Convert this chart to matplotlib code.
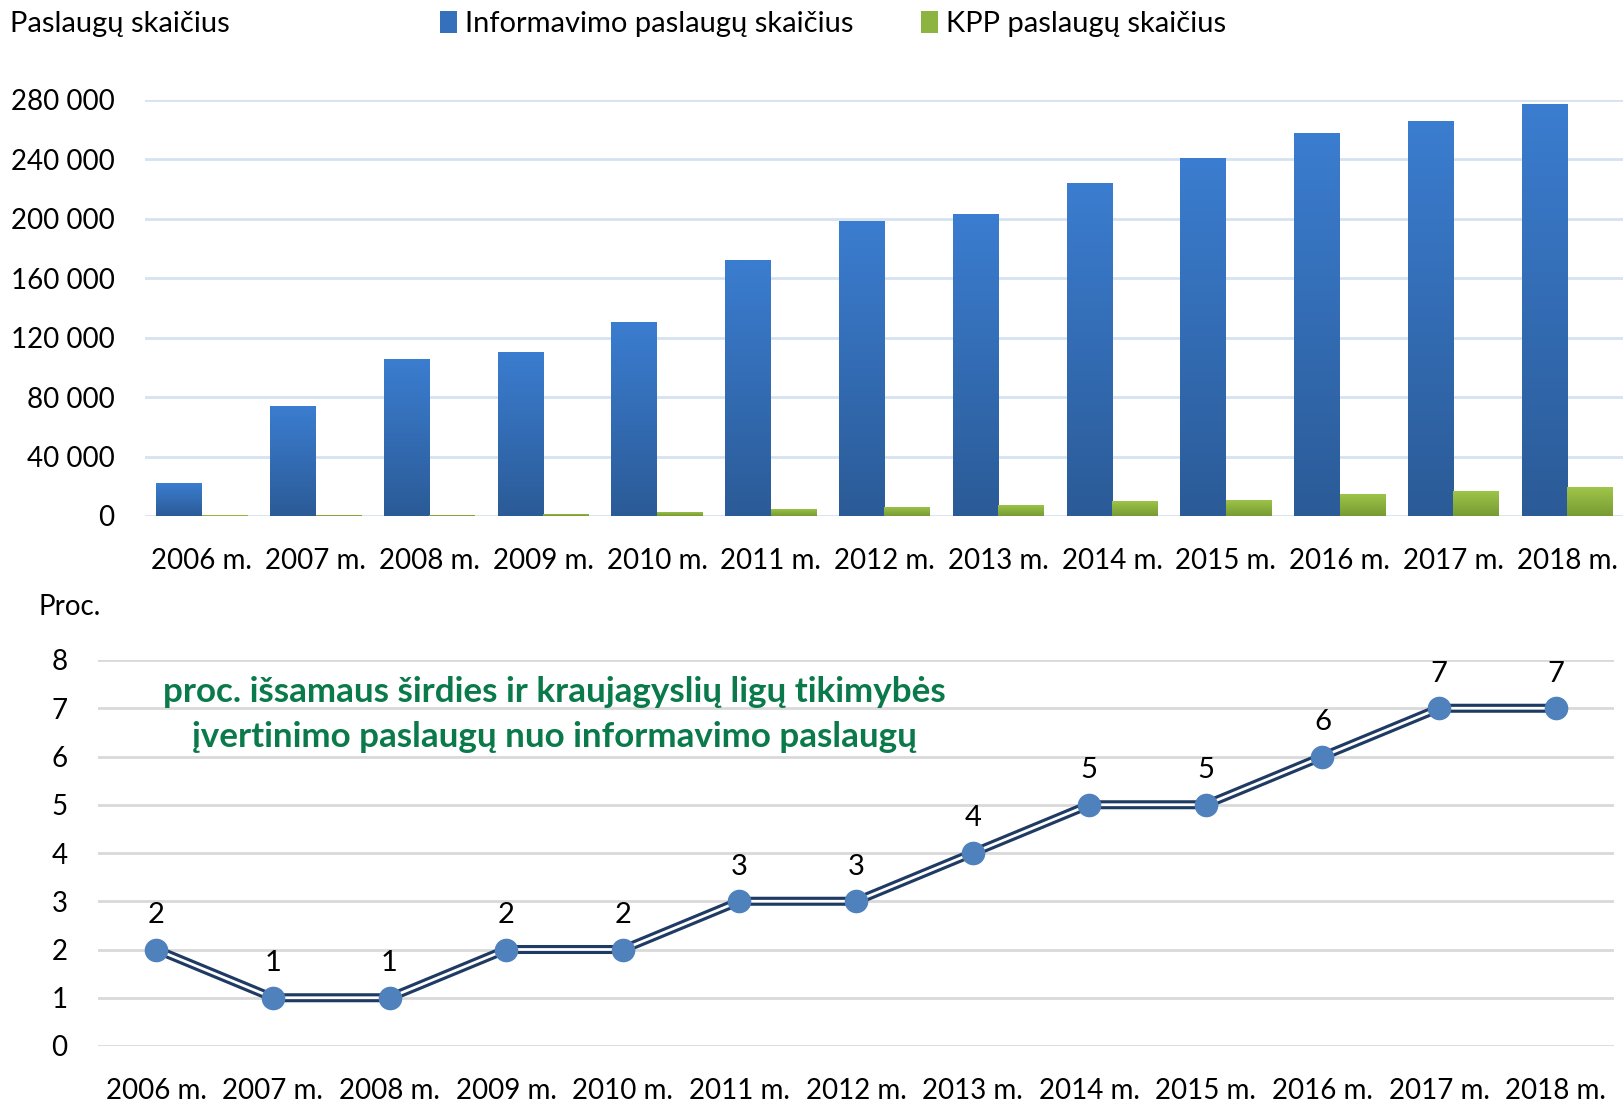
import numpy as np
import matplotlib
matplotlib.use('Agg')
import matplotlib.pyplot as plt
from matplotlib.colors import LinearSegmentedColormap
from matplotlib.patches import Patch

plt.rcParams['font.family'] = ['Lato', 'DejaVu Sans']

# Duomenys
metai = ['2006 m.', '2007 m.', '2008 m.', '2009 m.', '2010 m.', '2011 m.', '2012 m.',
         '2013 m.', '2014 m.', '2015 m.', '2016 m.', '2017 m.', '2018 m.']
informavimo = [22000, 74000, 105500, 110500, 130500, 172000, 198500,
               203000, 224000, 241000, 258000, 266000, 277500]
kpp = [400, 700, 800, 1500, 2700, 4800, 6100, 7500, 10300, 11000, 15000, 17000, 19200]
procentai = [2, 1, 1, 2, 2, 3, 3, 4, 5, 5, 6, 7, 7]

y_ticks_top = [0, 40000, 80000, 120000, 160000, 200000, 240000, 280000]
y_ticks_bottom = list(range(0, 9))

W, H = 1624, 1101
fig = plt.figure(figsize=(W / 100, H / 100), dpi=100)


def gradient_bars(ax, bars, top_color, bottom_color):
    # gradientas kiekvienam stulpeliui atskirai
    cmap = LinearSegmentedColormap.from_list('g', [bottom_color, top_color])
    grad = np.linspace(0, 1, 256).reshape(-1, 1)
    for bar in bars:
        x, y = bar.get_xy()
        w, h = bar.get_width(), bar.get_height()
        if h <= 0:
            continue
        im = ax.imshow(grad, extent=[x, x + w, y, y + h], origin='lower',
                       cmap=cmap, aspect='auto', zorder=bar.get_zorder() + 0.1)
        im.set_clip_path(bar)


# Viršutinis grafikas - stulpeliai
ax1 = fig.add_axes([145 / W, 1 - 516 / H, 1 - 145 / W, (516 - 100) / H])
x = np.arange(len(metai))
bw = 0.4
b1 = ax1.bar(x - bw / 2, informavimo, bw, color='#3470bb', zorder=3)
b2 = ax1.bar(x + bw / 2, kpp, bw, color='#8db440', zorder=3)
gradient_bars(ax1, b1, '#3b7dd0', '#2b5b97')
gradient_bars(ax1, b2, '#9fc64a', '#779b33')
ax1.set_xlim(-0.5, len(metai) - 0.5)
ax1.set_ylim(0, 280000)
ax1.set_yticks(y_ticks_top)
ax1.set_yticklabels([f'{v:,}'.replace(',', ' ') for v in y_ticks_top])
ax1.set_xticks(x)
ax1.set_xticklabels(metai)
ax1.grid(axis='y', color='#d6e2f1', lw=2, zorder=0)
ax1.set_axisbelow(True)
for s in ax1.spines.values():
    s.set_visible(False)
ax1.tick_params(axis='both', length=0, labelsize=20, colors='black')
ax1.tick_params(axis='x', pad=23)
ax1.tick_params(axis='y', pad=22)

fig.text(10 / W, 1 - 24 / H, 'Paslaugų skaičius', fontsize=21, ha='left', va='center')
handles = [Patch(facecolor='#3470bb', label='Informavimo paslaugų skaičius'),
           Patch(facecolor='#8db440', label='KPP paslaugų skaičius')]
fig.legend(handles=handles, loc='center left', bbox_to_anchor=(440 / W, 1 - 24 / H),
           ncol=2, frameon=False, fontsize=21, handlelength=0.57, handleheight=0.76,
           handletextpad=0.3, columnspacing=2.3, borderpad=0, borderaxespad=0)

# Apatinis grafikas - linija
ax2 = fig.add_axes([98 / W, 1 - 1046 / H, (1614 - 98) / W, (1046 - 660) / H])
ax2.plot(x, procentai, color='#1f3b63', lw=6.5, zorder=3)
ax2.plot(x, procentai, color='white', lw=2, zorder=4)
ax2.plot(x, procentai, 'o', ms=16, color='#4f81bd', zorder=5)
for xi, v in zip(x, procentai):
    ax2.annotate(str(v), (xi, v), xytext=(0, 25), textcoords='offset points',
                 ha='center', va='center', fontsize=21)
ax2.set_xlim(-0.5, len(metai) - 0.5)
ax2.set_ylim(0, 8)
ax2.set_yticks(y_ticks_bottom)
ax2.set_xticks(x)
ax2.set_xticklabels(metai)
ax2.grid(axis='y', color='#d9d9d9', lw=2, zorder=0)
ax2.set_axisbelow(True)
for s in ax2.spines.values():
    s.set_visible(False)
ax2.tick_params(axis='both', length=0, labelsize=20, colors='black')
ax2.tick_params(axis='x', pad=23)
ax2.tick_params(axis='y', pad=22)

fig.text(39 / W, 1 - 607 / H, 'Proc.', fontsize=20, ha='left', va='center')
fig.text(554 / W, 1 - 692 / H, 'proc. išsamaus širdies ir kraujagyslių ligų tikimybės',
         fontsize=25.2, fontweight='bold', color='#0b7a4b', ha='center', va='center')
fig.text(554 / W, 1 - 737 / H, 'įvertinimo paslaugų nuo informavimo paslaugų',
         fontsize=25.2, fontweight='bold', color='#0b7a4b', ha='center', va='center')

fig.savefig('out.png', dpi=100)
